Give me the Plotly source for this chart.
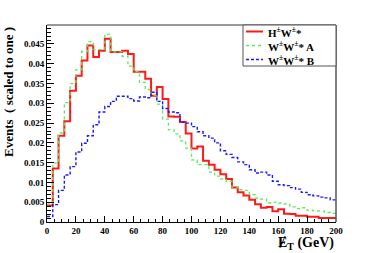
import plotly.graph_objects as go

# Bin low edges (GeV), 4 GeV bins from 0 to 200
bin_low_edges = list(range(0, 200, 4))
x_max = 200

hw_values = [
    0.0042, 0.0135, 0.0218, 0.0255, 0.0332, 0.0370, 0.0408, 0.0446, 0.0417, 0.0433,
    0.0463, 0.0430, 0.0430, 0.0433, 0.0425, 0.0380, 0.0380, 0.0362, 0.0319, 0.0341,
    0.0311, 0.0267, 0.0266, 0.0253, 0.0224, 0.0186, 0.0191, 0.0155, 0.0145, 0.0132,
    0.0121, 0.0109, 0.0087, 0.0075, 0.0067, 0.0056, 0.0045, 0.0036, 0.0038, 0.0027,
    0.0032, 0.0021, 0.0020, 0.0016, 0.0016, 0.0013, 0.0013, 0.0010, 0.0010, 0.0010,
]
wwa_values = [
    0.0045, 0.0149, 0.0225, 0.0302, 0.0350, 0.0385, 0.0431, 0.0456, 0.0436, 0.0436,
    0.0475, 0.0430, 0.0430, 0.0419, 0.0394, 0.0380, 0.0353, 0.0335, 0.0320, 0.0298,
    0.0260, 0.0233, 0.0223, 0.0205, 0.0187, 0.0157, 0.0145, 0.0145, 0.0126, 0.0116,
    0.0109, 0.0103, 0.0088, 0.0082, 0.0080, 0.0069, 0.0060, 0.0058, 0.0048, 0.0050,
    0.0048, 0.0046, 0.0038, 0.0034, 0.0036, 0.0030, 0.0028, 0.0028, 0.0024, 0.0022,
]
wwb_values = [
    0.0014, 0.0044, 0.0080, 0.0119, 0.0140, 0.0177, 0.0199, 0.0218, 0.0246, 0.0278,
    0.0292, 0.0305, 0.0318, 0.0318, 0.0312, 0.0306, 0.0316, 0.0314, 0.0328, 0.0305,
    0.0287, 0.0278, 0.0276, 0.0252, 0.0250, 0.0241, 0.0228, 0.0218, 0.0212, 0.0200,
    0.0180, 0.0171, 0.0163, 0.0152, 0.0145, 0.0132, 0.0124, 0.0126, 0.0119, 0.0103,
    0.0094, 0.0092, 0.0087, 0.0083, 0.0075, 0.0069, 0.0066, 0.0063, 0.0061, 0.0056,
]

series_names = ["H<sup>±</sup>W<sup>±</sup>*", "W<sup>±</sup>W<sup>±</sup>* A", "W<sup>±</sup>W<sup>±</sup>* B"]

y_tick_vals = [0, 0.005, 0.01, 0.015, 0.02, 0.025, 0.03, 0.035, 0.04, 0.045]
y_tick_text = ["0", "0.005", "0.01", "0.015", "0.02", "0.025", "0.03", "0.035", "0.04", "0.045"]
x_tick_vals = [0, 20, 40, 60, 80, 100, 120, 140, 160, 180, 200]

FONT = "Liberation Serif"
W, H = 374, 253
ML, MR, MT, MB = 47, 38, 25, 31
PW, PH = W - ML - MR, H - MT - MB


def px_x(px):
    return (px - ML) / PW


def px_y(py):
    return (H - MB - py) / PH


def step_xy(values):
    xs = list(bin_low_edges) + [x_max]
    ys = list(values) + [values[-1]]
    return xs, ys


fig = go.Figure()
styles = [
    dict(color="#ff1a1a", width=2, dash="solid"),
    dict(color="#55ee55", width=1.3, dash="dot"),
    dict(color="#1a1aff", width=1.4, dash="3px,2px"),
]
for name, vals, st in zip(series_names, [hw_values, wwa_values, wwb_values], styles):
    xs, ys = step_xy(vals)
    fig.add_trace(go.Scatter(x=xs, y=ys, mode="lines", line_shape="hv", name=name,
                             line=st, showlegend=False))

fig.update_layout(
    width=W, height=H,
    margin=dict(l=ML, r=MR, t=MT, b=MB, autoexpand=False),
    paper_bgcolor="white", plot_bgcolor="white",
    font=dict(family=FONT, size=10, color="black"),
    showlegend=False,
)
fig.update_xaxes(
    range=[0, 200], showgrid=False, zeroline=False, showline=True, linecolor="black", linewidth=1,
    ticks="inside", ticklen=6, tickcolor="black", tickvals=x_tick_vals, automargin=False,
    tickfont=dict(family=FONT, size=9, weight="bold"),
    minor=dict(dtick=5, ticks="inside", ticklen=3, tickcolor="black"),
)
fig.update_yaxes(
    range=[0, 0.0498], showgrid=False, zeroline=False, showline=True, linecolor="black", linewidth=1,
    ticks="inside", ticklen=7, tickcolor="black", tickvals=y_tick_vals, ticktext=y_tick_text,
    automargin=False, tickfont=dict(family=FONT, size=9, weight="bold"),
    minor=dict(dtick=0.001, ticks="inside", ticklen=4, tickcolor="black"),
)
# frame: top and right edges
fig.add_shape(type="line", xref="paper", yref="paper", x0=0, x1=1, y0=1, y1=1,
              line=dict(color="#999999", width=2))
fig.add_shape(type="line", xref="paper", yref="paper", x0=1, x1=1, y0=0, y1=1,
              line=dict(color="#555555", width=1.5))

# legend box (drawn manually, ROOT style)
leg_x0, leg_x1, leg_y0, leg_y1 = 243, 336, 25, 66
fig.add_shape(type="rect", xref="paper", yref="paper",
              x0=px_x(leg_x0), x1=px_x(leg_x1), y0=px_y(leg_y1), y1=px_y(leg_y0),
              line=dict(color="#555555", width=1), fillcolor="white", layer="above")
row_y = [31.5, 45.5, 59.5]
for name, st, ry in zip(series_names, styles, row_y):
    fig.add_shape(type="line", xref="paper", yref="paper",
                  x0=px_x(246), x1=px_x(263), y0=px_y(ry), y1=px_y(ry),
                  line=dict(color=st["color"], width=st["width"], dash=st["dash"]), layer="above")
    fig.add_annotation(text="<b>" + name + "</b>", xref="paper", yref="paper",
                       x=px_x(266), y=px_y(ry), xanchor="left", yanchor="middle",
                       showarrow=False, font=dict(family=FONT, size=11))

fig.add_annotation(text="<b>Events  ( scaled to one )</b>", textangle=-90,
                   xref="paper", yref="paper", x=px_x(8), y=1.0, xanchor="center", yanchor="top",
                   showarrow=False, font=dict(family=FONT, size=13))
fig.add_annotation(text="<b>Ɇ<sub>T</sub> (GeV)</b>", xref="paper", yref="paper",
                   x=1.0, y=px_y(243), xanchor="right", yanchor="middle",
                   showarrow=False, font=dict(family=FONT, size=14))

fig.write_html("out.html", config={"displayModeBar": False},
               post_script="document.body.style.margin='0px';")
